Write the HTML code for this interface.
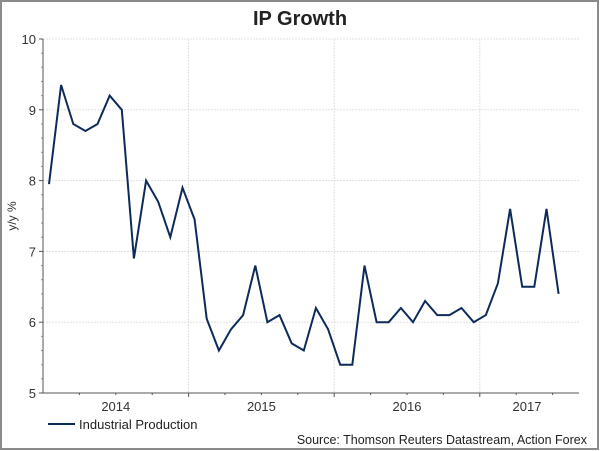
<!DOCTYPE html>
<html><head><meta charset="utf-8"><style>
body{margin:0;background:#fff;}
svg{display:block;font-family:"Liberation Sans",Arial,sans-serif;}
</style></head><body>
<svg width="600" height="451" viewBox="0 0 600 451">
<rect x="1" y="1" width="597" height="448" fill="#fff" stroke="#8a8a8a" stroke-width="2"/>
<text x="300" y="25" text-anchor="middle" font-size="20" font-weight="bold" fill="#222">IP Growth</text>
<g id="grid"></g>
<g id="axes"></g>
<text transform="translate(16,216) rotate(-90)" text-anchor="middle" font-size="12" fill="#333">y/y %</text>
<g id="series"></g>
<g>
<line x1="48" y1="424" x2="75" y2="424" stroke="#0d2b5a" stroke-width="2"/>
<text x="79" y="429" font-size="13" fill="#222">Industrial Production</text>
</g>
<text x="587" y="444" text-anchor="end" font-size="12.5" fill="#222">Source: Thomson Reuters Datastream, Action Forex</text>
</svg>
<script>
const values=[7.95,9.35,8.8,8.7,8.8,9.2,9.0,6.9,8.0,7.7,7.2,7.9,7.45,6.05,5.6,5.9,6.1,6.8,6.0,6.1,5.7,5.6,6.2,5.9,5.4,5.4,6.8,6.0,6.0,6.2,6.0,6.3,6.1,6.1,6.2,6.0,6.1,6.55,7.6,6.5,6.5,7.6,6.4];
const yTicks=[5,6,7,8,9,10];
const yearLabels=["2014","2015","2016","2017"];
const NS="http://www.w3.org/2000/svg";
const L=43,R=579,T=39,B=393;
const yMin=5,yMax=10;
const monthW=145.6/12;
function y(v){return B-(v-yMin)/(yMax-yMin)*(B-T);}
function xm(m){return L+m*monthW;}
function mk(tag,attrs,parent){const e=document.createElementNS(NS,tag);for(const k in attrs)e.setAttribute(k,attrs[k]);parent.appendChild(e);return e;}
const grid=document.getElementById('grid'),axes=document.getElementById('axes'),ser=document.getElementById('series');
yTicks.forEach(v=>{
  if(v>yMin){const g=mk('line',{x1:L,x2:R,y1:y(v),y2:y(v),stroke:'#e0e0e0','stroke-dasharray':'2,1'},grid);
  
  }
  const t=mk('text',{x:L-7,y:y(v)+5,'text-anchor':'end','font-size':'13',fill:'#333'},axes);
  t.textContent=v;
  
  
  mk('line',{x1:L-4,x2:L,y1:y(v),y2:y(v),stroke:'#555'},axes);
  for(let k=1;k<5;k++){if(v<yMax)mk('line',{x1:L-2,x2:L,y1:y(v+k*0.2),y2:y(v+k*0.2),stroke:'#999'},axes);}
});
yearLabels.forEach((lab,i)=>{
  const xs=xm(i*12);
  if(i>0){const g=mk('line',{x1:xs,x2:xs,y1:T,y2:B,stroke:'#e0e0e0','stroke-dasharray':'2,1'},grid);
  
  
  mk('line',{x1:xs,x2:xs,y1:B,y2:B+4,stroke:'#555'},axes);}
  for(let q=1;q<4;q++){const xq=xm(i*12+q*3);if(xq<R)mk('line',{x1:xq,x2:xq,y1:B,y2:B+2,stroke:'#555'},axes);}
  const cx=xm(i*12+6);
  const t=mk('text',{x:i==3?527:cx,y:411,'text-anchor':'middle','font-size':'13',fill:'#333'},axes);
  t.textContent=lab;
  
  
});
mk('line',{x1:L,x2:L,y1:T,y2:B,stroke:'#555'},axes);
mk('line',{x1:L,x2:R,y1:B,y2:B,stroke:'#555'},axes);
const x0=49;
const pts=values.map((v,i)=>(x0+i*monthW).toFixed(1)+','+y(v).toFixed(1)).join(' ');
const pl=mk('polyline',{points:pts,fill:'none',stroke:'#0d2b5a','stroke-width':'2','stroke-linejoin':'miter'},ser);


</script>
</body></html>
